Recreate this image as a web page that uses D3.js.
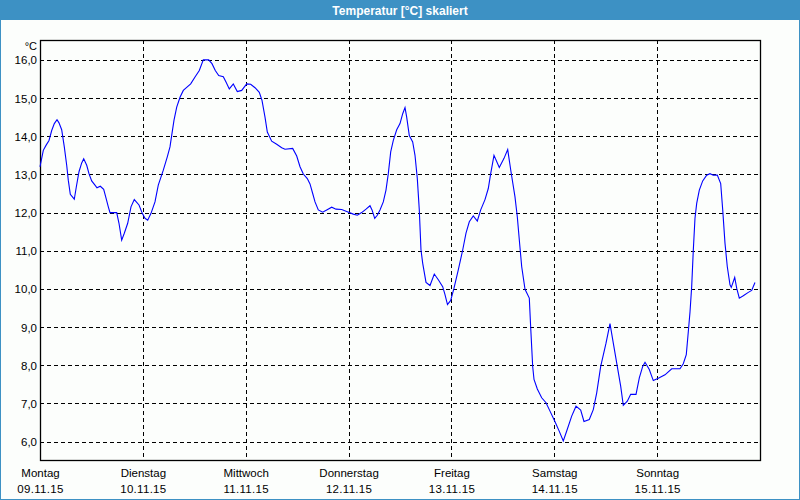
<!DOCTYPE html>
<html>
<head>
<meta charset="utf-8">
<script src="https://cdn.jsdelivr.net/npm/d3@7"></script>
<style>
  html, body { margin: 0; padding: 0; background: #fcfefc; }
  svg { display: block; }
  text { font-family: "Liberation Sans", Arial, sans-serif; }
</style>
</head>
<body>
<svg id="chart" width="800" height="500"></svg>
<script>
// ---- data ----
const title = "Temperatur [°C] skaliert";
const unitLabel = "°C";
const dayNames = ["Montag", "Dienstag", "Mittwoch", "Donnerstag", "Freitag", "Samstag", "Sonntag"];
const dayDates = ["09.11.15", "10.11.15", "11.11.15", "12.11.15", "13.11.15", "14.11.15", "15.11.15"];
const yTicks = [6, 7, 8, 9, 10, 11, 12, 13, 14, 15, 16];
// hours since Monday 09.11.15 00:00
const hours = [0, 0.77, 1.4, 2.1, 2.73, 3.34, 3.97, 4.43, 5.06, 5.67, 6.23, 6.6, 7.07, 8.0, 8.47, 9.1, 9.73, 10.2, 10.9, 11.43, 12.06, 12.83, 13.3, 14.07, 14.86, 15.33, 15.94, 16.33, 17.9, 18.43, 19.06, 19.67, 20.46, 21.23, 22.0, 23.1, 23.87, 24.5, 25.13, 25.9, 26.83, 27.6, 28.77, 29.7, 30.33, 30.73, 31.27, 31.9, 32.67, 33.44, 34.23, 35.16, 36.17, 37.17, 38.1, 39.36, 40.13, 40.9, 41.7, 42.77, 43.4, 44.17, 45.1, 46.04, 47.06, 48.23, 49.16, 50.17, 51.17, 51.8, 52.5, 53.04, 54.06, 55.23, 56.4, 57.17, 58.96, 59.9, 60.67, 61.44, 62.37, 63.0, 63.63, 64.17, 64.94, 65.96, 66.9, 68.06, 69.07, 70.4, 71.56, 73.1, 74.04, 75.06, 76.07, 77.0, 77.47, 78.1, 78.7, 79.33, 80.1, 80.73, 81.27, 81.83, 82.44, 83.23, 84.0, 84.63, 85.17, 85.56, 86.17, 86.96, 87.5, 88.04, 88.5, 88.9, 89.3, 90.07, 91.0, 92.0, 92.94, 93.96, 94.5, 95.08, 95.83, 96.6, 97.6, 98.63, 99.4, 100.17, 101.1, 102.04, 102.83, 103.83, 104.6, 105.16, 105.93, 107.17, 108.27, 109.13, 109.9, 110.83, 111.37, 111.84, 112.4, 113.17, 114.17, 114.5, 114.96, 115.27, 116.04, 117.06, 118.07, 119.0, 120.17, 121.17, 122.1, 122.9, 124.06, 125.07, 126.16, 126.93, 128.17, 129.1, 129.9, 130.83, 132.07, 133.0, 133.77, 134.7, 135.5, 136.1, 137.04, 137.83, 139.07, 139.84, 140.63, 141.17, 142.17, 143.1, 144.27, 145.83, 147.4, 149.33, 150.1, 150.8, 151.27, 151.67, 152.06, 152.44, 152.83, 153.23, 153.84, 154.63, 155.56, 156.33, 157.1, 158.04, 158.83, 159.3, 159.83, 160.37, 161.0, 161.3, 162.1, 162.56, 163.17, 164.1, 165.27, 166.06, 166.83];
const temps = [13.2, 13.63, 13.76, 13.89, 14.15, 14.33, 14.43, 14.35, 14.17, 13.72, 13.24, 12.85, 12.48, 12.35, 12.67, 13.07, 13.3, 13.41, 13.24, 13.02, 12.83, 12.72, 12.65, 12.69, 12.61, 12.41, 12.15, 12.0, 12.0, 11.72, 11.28, 11.46, 11.72, 12.15, 12.34, 12.2, 11.98, 11.85, 11.8, 11.98, 12.28, 12.72, 13.11, 13.46, 13.72, 14.02, 14.42, 14.76, 15.02, 15.2, 15.28, 15.37, 15.55, 15.72, 16.0, 16.0, 15.9, 15.72, 15.59, 15.56, 15.42, 15.24, 15.37, 15.17, 15.2, 15.37, 15.36, 15.27, 15.15, 14.94, 14.5, 14.11, 13.87, 13.79, 13.7, 13.66, 13.68, 13.48, 13.2, 13.01, 12.89, 12.75, 12.5, 12.28, 12.07, 12.01, 12.07, 12.14, 12.09, 12.08, 12.03, 11.96, 11.93, 12.0, 12.09, 12.18, 12.07, 11.85, 11.93, 12.07, 12.28, 12.59, 13.02, 13.59, 13.89, 14.17, 14.33, 14.59, 14.75, 14.5, 14.02, 13.85, 13.5, 12.89, 12.07, 11.02, 10.67, 10.17, 10.09, 10.39, 10.24, 10.06, 9.85, 9.59, 9.7, 10.02, 10.5, 11.02, 11.46, 11.76, 11.91, 11.78, 12.07, 12.34, 12.63, 13.02, 13.5, 13.18, 13.42, 13.65, 13.07, 12.41, 11.89, 11.28, 10.58, 9.99, 9.76, 8.98, 7.97, 7.63, 7.38, 7.15, 7.02, 6.8, 6.52, 6.27, 6.02, 6.28, 6.67, 6.93, 6.83, 6.53, 6.58, 6.84, 7.28, 7.97, 8.58, 9.09, 8.58, 7.97, 7.45, 6.95, 7.06, 7.24, 7.24, 7.67, 7.97, 8.08, 7.89, 7.6, 7.66, 7.75, 7.91, 7.91, 8.04, 8.28, 8.88, 9.4, 10.06, 11.02, 11.85, 12.24, 12.59, 12.83, 12.98, 13.02, 12.98, 12.98, 12.76, 12.07, 11.2, 10.58, 10.11, 10.04, 10.3, 10.02, 9.76, 9.82, 9.91, 9.96, 10.17];

// ---- layout ----
const W = 800, H = 500;
const plot = { left: 40, right: 760, top: 40, bottom: 460 };
const svg = d3.select("#chart");

// frame + title bar
svg.append("rect").attr("x", 0.5).attr("y", 0.5).attr("width", W - 1).attr("height", H - 1)
  .attr("fill", "#fcfefc").attr("stroke", "#3d91c4").attr("stroke-width", 1);
svg.append("rect").attr("x", 0).attr("y", 0).attr("width", W).attr("height", 20).attr("fill", "#3d91c4");
svg.append("text").attr("x", W / 2).attr("y", 14.5).attr("text-anchor", "middle")
  .attr("fill", "#ffffff").attr("font-weight", "bold").attr("font-size", "12px").text(title);

const x = d3.scaleLinear().domain([0, 168]).range([plot.left, plot.right]);
const y = d3.scaleLinear().domain([5.52, 16.52]).range([plot.bottom, plot.top]);

const dayStarts = dayNames.map((d, i) => i * 24);

// horizontal grid (dashed) via axis
const yGrid = d3.axisLeft(y).tickValues(yTicks)
  .tickSize(-(plot.right - plot.left)).tickFormat("").tickPadding(0);
const gy = svg.append("g").attr("transform", `translate(${plot.left},0)`).call(yGrid);
gy.select(".domain").remove();
gy.selectAll(".tick line").attr("stroke", "#000").attr("stroke-dasharray", "4,3")
  .attr("shape-rendering", "crispEdges");

// y labels
const yLab = d3.axisLeft(y).tickValues(yTicks).tickSize(0).tickPadding(0)
  .tickFormat(d => d3.format(".1f")(d).replace(".", ","));
const gyl = svg.append("g").attr("transform", `translate(${plot.left - 3},0)`).call(yLab);
gyl.select(".domain").remove();
gyl.selectAll("text").attr("font-size", "11.5px").attr("font-family", "Liberation Sans, Arial, sans-serif")
  .attr("fill", "#000").attr("dy", "0.35em");

svg.append("text").attr("x", 37).attr("y", 50).attr("text-anchor", "end")
  .attr("font-size", "11px").attr("fill", "#000").text(unitLabel);

// vertical grid (dashed) via axis
const xGrid = d3.axisBottom(x).tickValues(dayStarts.slice(1))
  .tickSize(plot.bottom - plot.top).tickFormat("");
const gx = svg.append("g").attr("transform", `translate(0,${plot.top})`).call(xGrid);
gx.select(".domain").remove();
gx.selectAll(".tick line").attr("stroke", "#000").attr("stroke-dasharray", "4,3")
  .attr("shape-rendering", "crispEdges");

// x labels (day names + dates)
const xLab = d3.axisBottom(x).tickValues(dayStarts).tickSize(0).tickPadding(0)
  .tickFormat((d, i) => dayNames[i]);
const gxl = svg.append("g").attr("transform", `translate(0,${plot.bottom + 9})`).call(xLab);
gxl.select(".domain").remove();
gxl.selectAll("text").attr("font-size", "11.5px").attr("font-family", "Liberation Sans, Arial, sans-serif").attr("fill", "#000");

const xLab2 = d3.axisBottom(x).tickValues(dayStarts).tickSize(0).tickPadding(0)
  .tickFormat((d, i) => dayDates[i]);
const gxl2 = svg.append("g").attr("transform", `translate(0,${plot.bottom + 25})`).call(xLab2);
gxl2.select(".domain").remove();
gxl2.selectAll("text").attr("font-size", "11.5px").attr("font-family", "Liberation Sans, Arial, sans-serif")
  .attr("fill", "#000").attr("letter-spacing", "0.3px");

// plot border
svg.append("rect").attr("x", plot.left + 0.5).attr("y", plot.top + 0.5)
  .attr("width", plot.right - plot.left).attr("height", plot.bottom - plot.top)
  .attr("fill", "none").attr("stroke", "#000").attr("stroke-width", 1.3);

// temperature line
const data = hours.map((h, i) => ({ h, t: temps[i] }));
const line = d3.line().x(d => x(d.h)).y(d => y(d.t));
svg.append("path").datum(data).attr("d", line)
  .attr("fill", "none").attr("stroke", "#0000ff").attr("stroke-width", 1.1);
</script>
</body>
</html>
